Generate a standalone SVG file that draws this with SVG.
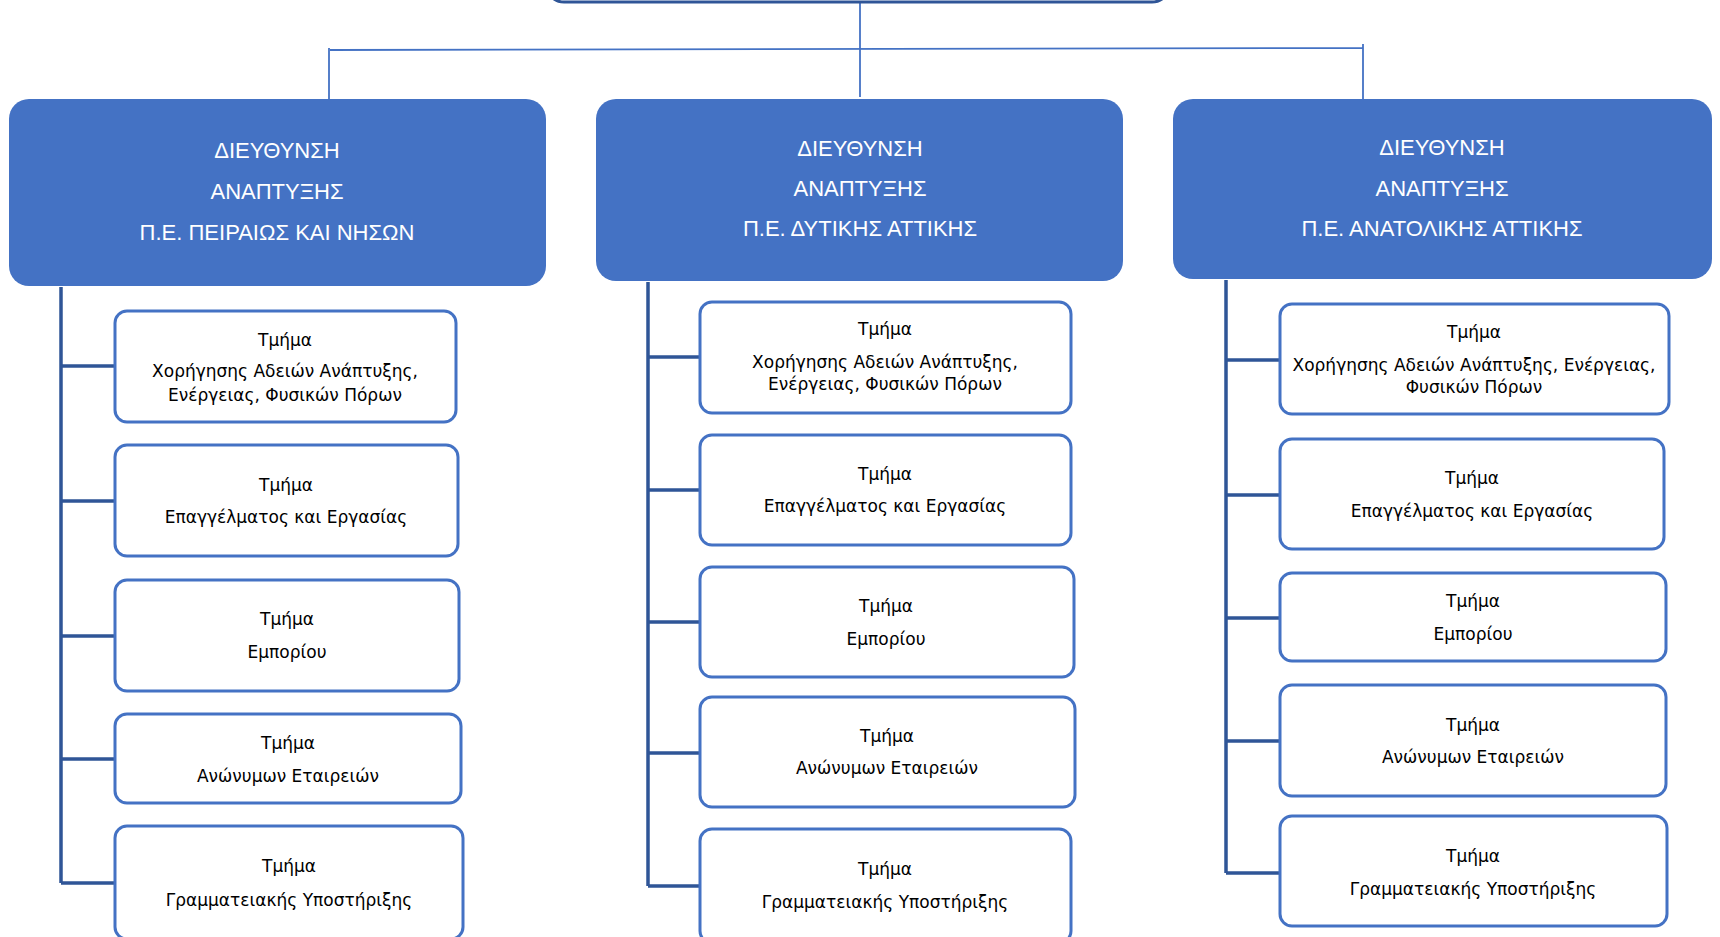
<svg xmlns="http://www.w3.org/2000/svg" width="1720" height="937" viewBox="0 0 1720 937">
<style>
.dir{fill:#4472C4;}
.dt{fill:#ffffff;font-family:"Liberation Sans",Arial,sans-serif;font-size:22px;text-anchor:middle;}
.sub{fill:#ffffff;stroke:#4472C4;stroke-width:3;}
.st{fill:#000000;font-family:"DejaVu Sans",Verdana,sans-serif;font-size:17px;text-anchor:middle;}
.thin{fill:none;stroke:#4472C4;stroke-width:1.8;}
.tree{fill:none;stroke:#2F5597;stroke-width:3.5;}
</style>
<rect width="1720" height="937" fill="#ffffff"/>
<g id="connectors">
<path class="thin" d="M860,2 V97"/>
<path class="thin" d="M329,99 V48 M330,50 L1363,48 M1363,44 V99"/>
<path class="tree" d="M61,287 V883 M61,366 H115 M61,501 H115 M61,636 H115 M61,759 H115 M61,883 H115"/>
<path class="tree" d="M648,282 V886 M648,357 H700 M648,490 H700 M648,622 H700 M648,753 H700 M648,886 H700"/>
<path class="tree" d="M1226,280 V873 M1226,360 H1280 M1226,495 H1280 M1226,618 H1280 M1226,741 H1280 M1226,873 H1280"/>
</g>
<g id="top">
<rect x="546" y="-60" width="624" height="62" rx="18" fill="#ffffff" stroke="#2F5597" stroke-width="3"/>
</g>
<g id="dir1">
<rect class="dir" x="9" y="99" width="537" height="187" rx="20"/>
<text class="dt" x="277" y="158">ΔΙΕΥΘΥΝΣΗ</text>
<text class="dt" x="277" y="199">ΑΝΑΠΤΥΞΗΣ</text>
<text class="dt" x="277" y="240">Π.Ε. ΠΕΙΡΑΙΩΣ ΚΑΙ ΝΗΣΩΝ</text>
</g>
<g id="dir2">
<rect class="dir" x="596" y="99" width="527" height="182" rx="20"/>
<text class="dt" x="860" y="156">ΔΙΕΥΘΥΝΣΗ</text>
<text class="dt" x="860" y="196">ΑΝΑΠΤΥΞΗΣ</text>
<text class="dt" x="860" y="236">Π.Ε. ΔΥΤΙΚΗΣ ΑΤΤΙΚΗΣ</text>
</g>
<g id="dir3">
<rect class="dir" x="1173" y="99" width="539" height="180" rx="20"/>
<text class="dt" x="1442" y="155">ΔΙΕΥΘΥΝΣΗ</text>
<text class="dt" x="1442" y="196">ΑΝΑΠΤΥΞΗΣ</text>
<text class="dt" x="1442" y="236">Π.Ε. ΑΝΑΤΟΛΙΚΗΣ ΑΤΤΙΚΗΣ</text>
</g>
<g id="l1"><rect class="sub" x="115" y="311" width="341" height="111" rx="12"/>
<text class="st" x="285" y="346">Τμήμα</text><text class="st" x="285" y="377">Χορήγησης Αδειών Ανάπτυξης,</text><text class="st" x="285" y="401">Ενέργειας, Φυσικών Πόρων</text></g>
<g id="l2"><rect class="sub" x="115" y="445" width="343" height="111" rx="12"/>
<text class="st" x="286" y="491">Τμήμα</text><text class="st" x="286" y="523">Επαγγέλματος και Εργασίας</text></g>
<g id="l3"><rect class="sub" x="115" y="580" width="344" height="111" rx="12"/>
<text class="st" x="287" y="625">Τμήμα</text><text class="st" x="287" y="658">Εμπορίου</text></g>
<g id="l4"><rect class="sub" x="115" y="714" width="346" height="89" rx="12"/>
<text class="st" x="288" y="749">Τμήμα</text><text class="st" x="288" y="782">Ανώνυμων Εταιρειών</text></g>
<g id="l5"><rect class="sub" x="115" y="826" width="348" height="113" rx="12"/>
<text class="st" x="289" y="872">Τμήμα</text><text class="st" x="289" y="906">Γραμματειακής Υποστήριξης</text></g>
<g id="m1"><rect class="sub" x="700" y="302" width="371" height="111" rx="12"/>
<text class="st" x="885" y="335">Τμήμα</text><text class="st" x="885" y="368">Χορήγησης Αδειών Ανάπτυξης,</text><text class="st" x="885" y="390">Ενέργειας, Φυσικών Πόρων</text></g>
<g id="m2"><rect class="sub" x="700" y="435" width="371" height="110" rx="12"/>
<text class="st" x="885" y="480">Τμήμα</text><text class="st" x="885" y="512">Επαγγέλματος και Εργασίας</text></g>
<g id="m3"><rect class="sub" x="700" y="567" width="374" height="110" rx="12"/>
<text class="st" x="886" y="612">Τμήμα</text><text class="st" x="886" y="645">Εμπορίου</text></g>
<g id="m4"><rect class="sub" x="700" y="697" width="375" height="110" rx="12"/>
<text class="st" x="887" y="742">Τμήμα</text><text class="st" x="887" y="774">Ανώνυμων Εταιρειών</text></g>
<g id="m5"><rect class="sub" x="700" y="829" width="371" height="114" rx="12"/>
<text class="st" x="885" y="875">Τμήμα</text><text class="st" x="885" y="908">Γραμματειακής Υποστήριξης</text></g>
<g id="r1"><rect class="sub" x="1280" y="304" width="389" height="110" rx="12"/>
<text class="st" x="1474" y="338">Τμήμα</text><text class="st" x="1474" y="371">Χορήγησης Αδειών Ανάπτυξης, Ενέργειας,</text><text class="st" x="1474" y="393">Φυσικών Πόρων</text></g>
<g id="r2"><rect class="sub" x="1280" y="439" width="384" height="110" rx="12"/>
<text class="st" x="1472" y="484">Τμήμα</text><text class="st" x="1472" y="517">Επαγγέλματος και Εργασίας</text></g>
<g id="r3"><rect class="sub" x="1280" y="573" width="386" height="88" rx="12"/>
<text class="st" x="1473" y="607">Τμήμα</text><text class="st" x="1473" y="640">Εμπορίου</text></g>
<g id="r4"><rect class="sub" x="1280" y="685" width="386" height="111" rx="12"/>
<text class="st" x="1473" y="731">Τμήμα</text><text class="st" x="1473" y="763">Ανώνυμων Εταιρειών</text></g>
<g id="r5"><rect class="sub" x="1280" y="816" width="387" height="110" rx="12"/>
<text class="st" x="1473" y="862">Τμήμα</text><text class="st" x="1473" y="895">Γραμματειακής Υποστήριξης</text></g>
</svg>
